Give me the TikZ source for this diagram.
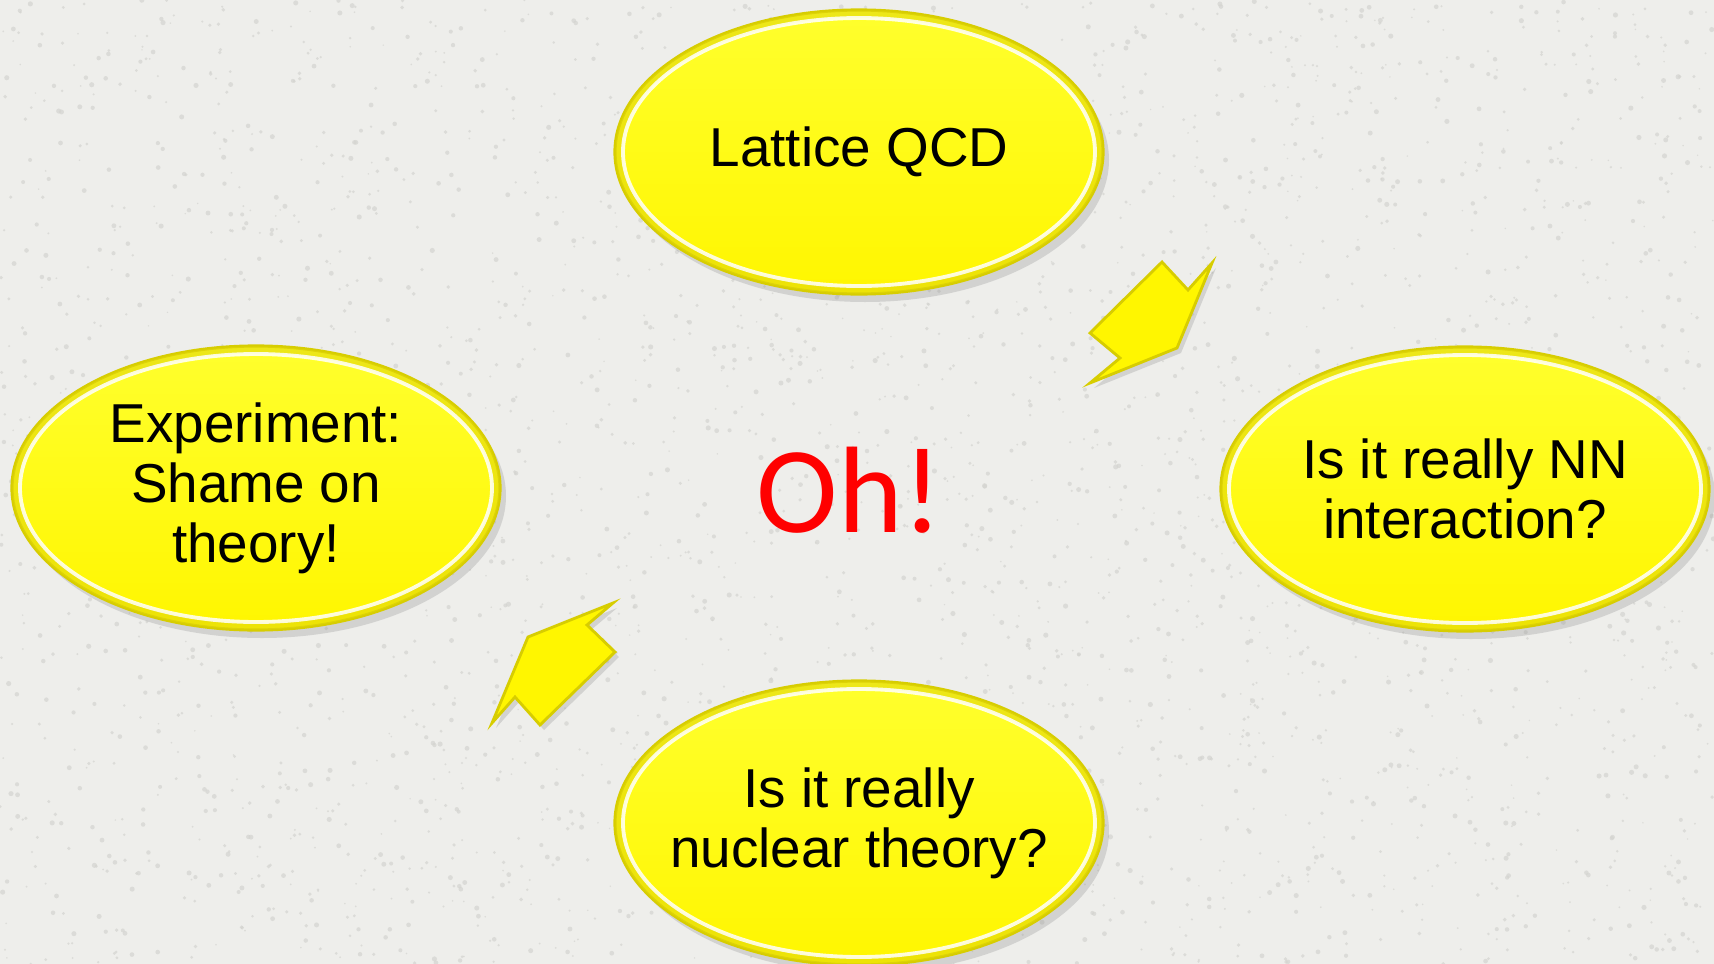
\documentclass[tikz,border=0pt]{standalone}
\usepackage{fontspec}
\setmainfont{Liberation Sans}
\newfontfamily\ohfont{Carlito}
\usepackage{xcolor}
\usepackage{tikz}
\usetikzlibrary{positioning, shapes.geometric, shadows}

\definecolor{paper}{RGB}{238,238,235}
\definecolor{speck}{RGB}{212,212,208}
\definecolor{bubblefill}{RGB}{255,246,0}
\definecolor{bubbletop}{RGB}{255,255,45}
\definecolor{bubbleedge}{RGB}{215,205,0}
\definecolor{bubbleband}{RGB}{225,215,10}

\begin{document}
\begin{tikzpicture}[
			bubble/.style={ellipse, minimum width=4.88cm, minimum height=2.84cm, inner sep=-6mm, align=center,
				top color=bubbletop, bottom color=bubblefill, draw=bubbleedge, line width=0.9pt,
				drop shadow={opacity=0.25, shadow xshift=0.6mm, shadow yshift=-0.8mm},
				font=\fontsize{15.6}{17.1}\selectfont},
			band/.style={draw=bubbleband, opacity=0.6, line width=2pt},
			rim/.style={draw=white, opacity=0.85, line width=1.1pt},
			bentarrow/.style={fill=bubblefill, draw=bubbleedge, line width=0.8pt, line join=miter,
				drop shadow={opacity=0.25, shadow xshift=0.4mm, shadow yshift=-0.5mm}}
			]
			% Background
			\fill[paper] (0,0) rectangle (17.14,-9.64);
			\useasboundingbox (0,0) rectangle (17.14,-9.64);
			\pgfmathsetseed{42}
			\foreach \i in {1,...,3500}
				\fill[speck, opacity=0.7] (17.14*rnd, -9.64*rnd) circle (0.008+0.018*rnd);
			
			% Ellipse Nodes
			\node (lqcd) [bubble] at (8.59,-1.52) {Lattice QCD};
			\node (expt) [bubble] at (2.56,-4.88) {Experiment:\\Shame on\\theory!};
			\node (nnint) [bubble] at (14.65,-4.89) {Is it really NN\\interaction?};
			\node (nucth) [bubble] at (8.59,-8.23) {Is it really\\nuclear theory?};
			\node (oh) [text=red, font=\ohfont\fontsize{35}{40}\selectfont] at (8.50,-4.90) {Oh!};
			
			% Rims
			\foreach \n in {lqcd, expt, nnint, nucth} {
				\draw [band] (\n.center) ellipse [x radius=2.40cm, y radius=1.38cm];
				\draw [rim] (\n.center) ellipse [x radius=2.36cm, y radius=1.34cm];
			}
			
			% Bent arrows
			\draw [bentarrow] (10.90,-3.33) -- (11.62,-2.62) -- (11.88,-2.90) -- (12.12,-2.63)
				-- (11.77,-3.48) -- (10.90,-3.83) -- (11.20,-3.58) -- cycle;
			\draw [bentarrow] (6.13,-6.03) -- (5.87,-6.25) -- (6.15,-6.52) -- (5.40,-7.25)
				-- (5.15,-6.97) -- (4.92,-7.23) -- (5.28,-6.37) -- cycle;
		\end{tikzpicture}
\end{document}
